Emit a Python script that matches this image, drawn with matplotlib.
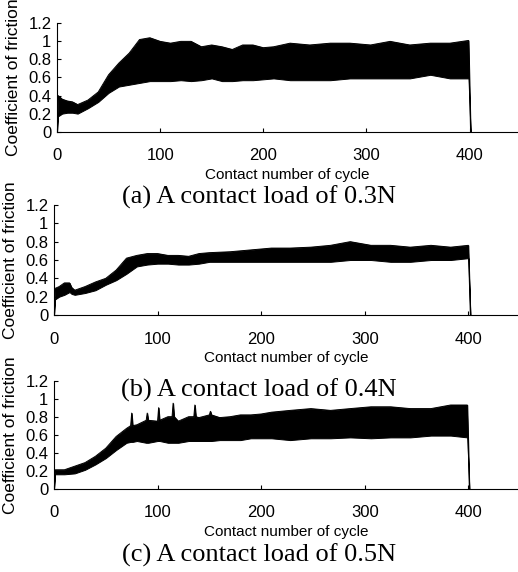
import matplotlib
matplotlib.use('Agg')
import matplotlib.pyplot as plt

# friction band (min / max of the trace)
cyc_a = [0, 1, 5, 10, 15, 20, 30, 40, 50, 60, 70, 80, 90, 100, 110, 120, 130, 140, 150, 160, 170, 180, 190, 200, 210,
         226, 245, 265, 284, 304, 323, 342, 362, 381, 399, 401]
hi_a = [0, 0.40, 0.36, 0.34, 0.33, 0.30, 0.35, 0.44, 0.63, 0.76, 0.87, 1.02, 1.04, 1.00, 0.98, 1.00, 1.00, 0.94, 0.96,
        0.94, 0.91, 0.96, 0.96, 0.93, 0.94, 0.98, 0.96, 0.98, 0.98, 0.96, 1.00, 0.96, 0.98, 0.98, 1.01, 0]
lo_a = [0, 0.17, 0.20, 0.21, 0.21, 0.20, 0.26, 0.33, 0.43, 0.50, 0.52, 0.54, 0.56, 0.56, 0.56, 0.57, 0.56, 0.57, 0.59,
        0.56, 0.56, 0.57, 0.57, 0.58, 0.59, 0.57, 0.57, 0.57, 0.59, 0.59, 0.59, 0.59, 0.63, 0.59, 0.59, 0]

cyc_b = [0, 1, 5, 10, 15, 17, 20, 30, 40, 50, 60, 70, 80, 90, 100, 110, 120, 130, 140, 150,
         170, 190, 210, 228, 248, 267, 286, 306, 325, 344, 364, 383, 400, 402]
hi_b = [0, 0.29, 0.31, 0.35, 0.35, 0.30, 0.27, 0.31, 0.36, 0.40, 0.49, 0.62, 0.65, 0.67, 0.67, 0.65, 0.65, 0.64, 0.67,
        0.68, 0.69, 0.71, 0.73, 0.73, 0.74, 0.76, 0.80, 0.76, 0.76, 0.74, 0.76, 0.74, 0.76, 0]
lo_b = [0, 0.17, 0.20, 0.22, 0.25, 0.23, 0.22, 0.24, 0.27, 0.33, 0.38, 0.45, 0.53, 0.55, 0.56, 0.56, 0.55, 0.55, 0.56,
        0.58, 0.58, 0.58, 0.58, 0.58, 0.58, 0.58, 0.60, 0.60, 0.58, 0.58, 0.60, 0.60, 0.62, 0]

cyc_c = [0, 1, 10, 20, 30, 40, 50, 60, 70, 74, 75, 76, 80, 89, 90, 91, 100, 101, 102, 110, 114, 115, 116, 120, 130,
         135, 136, 137, 140, 150, 151, 152, 160, 170, 180, 190, 200, 210, 228, 248, 267, 286, 306, 325, 344, 364, 383,
         399, 401]
hi_c = [0, 0.21, 0.21, 0.25, 0.29, 0.36, 0.45, 0.58, 0.67, 0.70, 0.84, 0.70, 0.71, 0.76, 0.84, 0.76, 0.75, 0.90, 0.76,
        0.80, 0.80, 0.95, 0.80, 0.75, 0.80, 0.80, 0.93, 0.80, 0.79, 0.82, 0.86, 0.82, 0.79, 0.80, 0.82, 0.82, 0.83, 0.85,
        0.87, 0.89, 0.87, 0.89, 0.91, 0.91, 0.89, 0.89, 0.93, 0.93, 0]
lo_c = [0, 0.16, 0.16, 0.17, 0.21, 0.27, 0.34, 0.43, 0.51, 0.52, 0.52, 0.52, 0.53, 0.51, 0.51, 0.51, 0.53, 0.53, 0.53,
        0.51, 0.51, 0.51, 0.51, 0.51, 0.53, 0.53, 0.53, 0.53, 0.53, 0.53, 0.53, 0.53, 0.54, 0.54, 0.54, 0.56, 0.56, 0.56,
        0.54, 0.56, 0.56, 0.57, 0.56, 0.57, 0.57, 0.59, 0.59, 0.57, 0]

captions = ['(a) A contact load of 0.3N', '(b) A contact load of 0.4N', '(c) A contact load of 0.5N']
xticks = [0, 100, 200, 300, 400]
yticks = [0, 0.2, 0.4, 0.6, 0.8, 1, 1.2]
ytick_labels = ['0', '0.2', '0.4', '0.6', '0.8', '1', '1.2']

sans = 'Liberation Sans'
serif = 'Liberation Serif'

fig = plt.figure(figsize=(5.18, 5.72), dpi=100)

# axes boxes in figure fraction: left, bottom, width, height, xmax
boxes = [
    (57 / 518, (572 - 131.7) / 572, 461 / 518, 108.4 / 572, 447),
    (54 / 518, (572 - 315) / 572, 464 / 518, 110 / 572, 448),
    (54 / 518, (572 - 488.7) / 572, 464 / 518, 108 / 572, 448),
]
caption_y = [(572 - 197) / 572, (572 - 390) / 572, (572 - 555) / 572]
data = [(cyc_a, lo_a, hi_a), (cyc_b, lo_b, hi_b), (cyc_c, lo_c, hi_c)]

for i in range(3):
    l, b, w, h, xmax = boxes[i]
    ax = fig.add_axes([l, b, w, h])
    cyc, lo, hi = data[i]
    ax.fill_between(cyc, lo, hi, color='black', linewidth=0.7, edgecolor='black')
    ax.plot(cyc, hi, color='black', linewidth=0.7)

    ax.set_xlim(0, xmax)
    ax.set_ylim(0, 1.2)
    ax.set_xticks(xticks)
    ax.set_yticks(yticks)
    ax.set_yticklabels(ytick_labels)
    for s in ['top', 'right']:
        ax.spines[s].set_visible(False)
    for s in ['left', 'bottom']:
        ax.spines[s].set_linewidth(0.8)
    ax.tick_params(axis='both', direction='in', length=3, width=0.8, labelsize=12)
    ax.tick_params(axis='x', pad=12)
    ax.tick_params(axis='y', pad=4)
    for t in ax.get_xticklabels() + ax.get_yticklabels():
        t.set_fontfamily(sans)

    ax.set_xlabel('Contact number of cycle', fontsize=11, fontfamily=sans, labelpad=3)
    ax.set_ylabel('Coefficient of friction', fontsize=12.5, fontfamily=sans)
    ax.yaxis.set_label_coords(-36 / (w * 518), 0.5)

    fig.text(0.5, caption_y[i], captions[i], fontsize=19, fontfamily=serif, ha='center', va='center')

fig.savefig('out.png', dpi=100)
